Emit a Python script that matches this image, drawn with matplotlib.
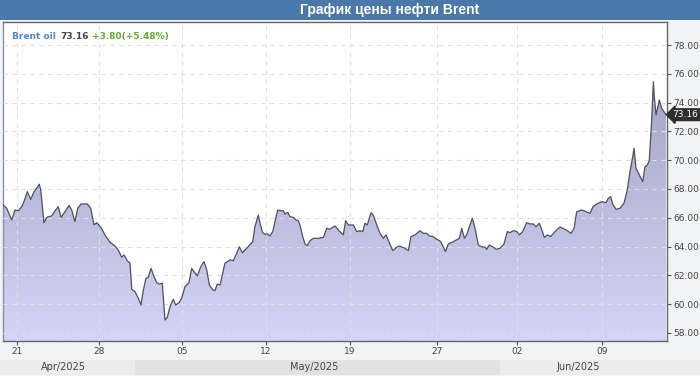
import numpy as np
import matplotlib.pyplot as plt
from matplotlib.colors import LinearSegmentedColormap

# Brent price trace: t = chart time in days from 21 Apr 2025 (weekend gaps compressed)
t = [-1.14, -0.86, -0.44, -0.17, 0.11, 0.39, 0.58, 0.86, 1.14, 1.42, 1.64, 1.86, 1.98,
     2.25, 2.48, 2.89, 3.17, 3.44, 3.67, 4.0, 4.33, 4.56, 4.83, 5.06, 5.33, 5.86, 6.14,
     6.42, 6.64, 6.98, 7.42, 7.75, 8.17, 8.44, 8.72, 8.92, 9.19, 9.42, 9.56, 9.83, 10.11,
     10.33, 10.53, 10.75, 10.94, 11.17, 11.36, 11.64, 11.86, 12.11, 12.33, 12.53, 12.75,
     13.03, 13.22, 13.5, 13.72, 14.0, 14.33, 14.56, 14.75, 15.03, 15.31, 15.58, 15.81,
     16.03, 16.31, 16.5, 16.69, 16.92, 17.33, 17.75, 18.03, 18.31, 18.53, 18.78, 19.14,
     19.64, 19.83, 20.11, 20.25, 20.47, 20.67, 20.86, 21.08, 21.31, 21.5, 21.72, 21.92,
     22.19, 22.33, 22.56, 22.75, 23.03, 23.25, 23.44, 23.58, 23.81, 24.0, 24.19, 24.42,
     24.69, 25.11, 25.53, 25.81, 26.03, 26.31, 26.5, 26.83, 27.19, 27.39, 27.61, 28.03,
     28.31, 28.58, 28.81, 29.0, 29.19, 29.5, 29.69, 29.98, 30.25, 30.53, 30.75, 31.03,
     31.31, 31.64, 31.86, 32.33, 32.61, 32.83, 33.17, 33.58, 33.86, 34.14, 34.36, 34.69,
     34.98, 35.31, 35.71, 35.94, 36.36, 36.86, 37.06, 37.28, 37.47, 37.94, 38.17, 38.44,
     38.72, 39.0, 39.14, 39.36, 39.64, 39.92, 40.25, 40.58, 40.86, 41.08, 41.36, 41.64,
     41.86, 42.14, 42.47, 42.75, 43.03, 43.25, 43.53, 43.72, 43.94, 44.19, 44.47, 44.83,
     45.25, 45.78, 46.17, 46.42, 46.64, 47.06, 47.44, 47.75, 48.0, 48.31, 48.72, 49.08,
     49.27, 49.47, 49.64, 49.92, 50.25, 50.58, 50.86, 51.08, 51.31, 51.42, 51.58, 51.86,
     52.14, 52.33, 52.53, 52.69, 52.89, 53.03, 53.11, 53.25, 53.53, 53.72, 54.08]
price = [66.89, 66.66, 65.85, 66.54, 66.49, 66.77, 67.12, 67.81, 67.28, 67.81, 68.05, 68.33, 67.93,
         65.66, 66.03, 66.13, 66.49, 66.77, 66.03, 66.42, 66.86, 66.54, 65.73, 66.66, 66.96, 66.96, 66.66,
         65.5, 65.66, 65.34, 64.69, 64.3, 64.04, 63.76, 63.26, 63.42, 63.02, 62.84, 61.03, 60.87, 60.41,
         59.94, 60.99, 61.8, 61.86, 62.49, 62.03, 61.49, 61.4, 61.45, 58.9, 59.09, 59.83,
         60.34, 59.94, 60.1, 60.41, 61.22, 61.49, 62.49, 62.26, 61.96, 62.6, 62.95, 62.38,
         61.33, 60.99, 60.94, 61.4, 61.33, 62.84, 63.07, 63.02, 63.53, 63.99, 63.57, 63.88,
         64.34, 65.38, 66.19, 65.62, 64.97, 64.85, 64.88, 64.74, 65.04, 65.73, 66.54, 66.49,
         66.49, 66.26, 66.38, 66.07, 66.03, 65.85, 65.8, 65.5, 64.69, 64.18, 64.06, 64.41,
         64.57, 64.57, 64.64, 65.27, 65.2, 65.34, 65.43, 65.1, 64.81, 65.8, 65.5, 65.5,
         65.04, 65.1, 65.04, 65.62, 65.5, 66.35, 66.19, 65.5, 64.92, 64.57, 64.81, 64.27,
         63.72, 63.95, 64.04, 63.88, 63.72, 64.69, 64.81, 65.1, 64.92, 64.92, 64.74, 64.69,
         64.51, 64.34, 63.65, 64.18, 64.34, 64.57, 65.27, 64.57, 64.81, 65.97, 65.27, 64.11,
         63.99, 63.95, 63.81, 64.11, 63.99, 63.81, 63.88, 64.18, 65.04, 64.97, 65.1, 65.04,
         64.81, 65.04, 65.66, 65.57, 65.57, 65.38, 65.62, 65.2, 64.64, 64.81, 64.69, 65.04,
         65.36, 65.15, 64.92, 65.27, 66.42, 66.54, 66.42, 66.31, 66.77, 66.96, 67.12, 67.05,
         67.35, 67.47, 66.96, 66.59, 66.66, 67.01, 67.93, 69.2, 70.25, 70.83, 69.44, 68.97,
         68.51, 69.55, 69.66, 70.0, 72.79, 75.45, 74.41, 73.14, 74.18, 73.61, 73.16]

tick_pos = [0.0, 6.83, 13.75, 20.75, 27.75, 35.0, 41.64, 48.72]
tick_labels = ['21', '28', '05', '12', '19', '27', '02', '09']
month_edges = [9.83, 40.25]
month_names = ['Apr/2025', 'May/2025', 'Jun/2025']
yticks = [58, 60, 62, 64, 66, 68, 70, 72, 74, 76, 78]

W, H = 700, 376
fig = plt.figure(figsize=(W / 100, H / 100), dpi=100)
fig.patch.set_facecolor('#f2f3f5')

# title bar
bar = fig.add_axes([0, 1 - 20 / H, 1, 20 / H])
bar.set_facecolor('#4a78a8')
bar.set_xticks([])
bar.set_yticks([])
for s in bar.spines.values():
    s.set_visible(False)
bar.text(0.557, 0.5, 'График цены нефти Brent', color='white', fontsize=10,
         fontweight='bold', family='Liberation Sans', ha='center', va='center')

# main axes
x0, x1 = -14 / 12, 650 / 12
ax = fig.add_axes([3 / W, 1 - 341 / H, 664 / W, 319 / H])
ax.set_xlim(x0, x1)
ax.set_ylim(57.44, 79.6)
ax.set_facecolor('white')

xs = np.array(t)
ys = np.array(price)
poly = ax.fill_between(xs, ys, 57.44, color='none', lw=0)
cmap = LinearSegmentedColormap.from_list('g', ['#d4d4f8', '#a4a4c4'])
grad = np.linspace(0, 1, 256).reshape(-1, 1)
img = ax.imshow(grad, aspect='auto', cmap=cmap, origin='lower',
                extent=[x0, x1, 57.44, 76.0], zorder=1)
img.set_clip_path(poly.get_paths()[0], transform=ax.transData)
ax.plot(xs, ys, color='#50505e', lw=0.9, zorder=3)

ax.set_yticks(yticks)
ax.set_yticklabels([f'{v:.2f}' for v in yticks])
ax.yaxis.tick_right()
ax.set_xticks(tick_pos)
ax.set_xticklabels(tick_labels)
ax.tick_params(axis='both', length=3, width=0.8, color='#555555', labelsize=6.5,
               labelcolor='#444444', pad=1.5)
ax.grid(True, color='#e0e0e0', linestyle=(0, (4, 4)), linewidth=0.8, zorder=2)
ax.set_axisbelow(False)
for s in ax.spines.values():
    s.set_color('#666666')
    s.set_linewidth(1.0)
ax.spines['left'].set_color('#7f93aa')

# legend text
ax.text(0.013, 0.955, 'Brent oil', transform=ax.transAxes, color='#5585e0',
        fontsize=6.5, fontweight='bold', va='center', zorder=5)
ax.text(0.087, 0.955, '73.16', transform=ax.transAxes, color='#444444',
        fontsize=6.5, fontweight='bold', va='center', zorder=5)
ax.text(0.134, 0.955, '+3.80(+5.48%)', transform=ax.transAxes, color='#66aa33',
        fontsize=6.5, fontweight='bold', va='center', zorder=5)

# last price marker
ax.annotate(f'{price[-1]:.2f}', xy=(1.0, price[-1]), xycoords=('axes fraction', 'data'),
            xytext=(4, 0), textcoords='offset points', color='white', fontsize=6.5,
            ha='left', va='center', annotation_clip=False, zorder=6,
            bbox=dict(boxstyle='larrow,pad=0.15', fc='#2e2e2e', ec='#2e2e2e'))

# month band
band = fig.add_axes([0, 1 - 375 / H, 1, 15 / H])
bx0, bx1 = -17 / 12, 683 / 12
band.set_xlim(bx0, bx1)
band.set_ylim(0, 1)
edges = [bx0] + month_edges + [bx1]
cols = ['#ececec', '#e2e2e2', '#ececec']
for i, name in enumerate(month_names):
    band.axvspan(edges[i], edges[i + 1], color=cols[i], lw=0)
band.text(3.9, 0.5, month_names[0], ha='center', va='center', fontsize=7, color='#444444')
band.text(24.8, 0.5, month_names[1], ha='center', va='center', fontsize=7, color='#444444')
band.text(46.8, 0.5, month_names[2], ha='center', va='center', fontsize=7, color='#444444')
band.set_xticks([])
band.set_yticks([])
for s in band.spines.values():
    s.set_visible(False)

fig.savefig('out.png', dpi=100, facecolor=fig.get_facecolor())
